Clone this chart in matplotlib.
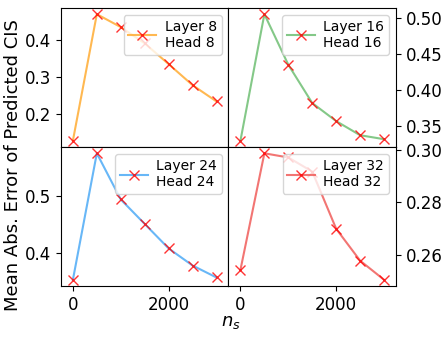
import matplotlib.pyplot as plt

ns = [0, 500, 1000, 1500, 2000, 2500, 3000]

err_l8 = [0.129, 0.471, 0.436, 0.392, 0.336, 0.279, 0.235]
err_l16 = [0.330, 0.505, 0.435, 0.382, 0.357, 0.3375, 0.332]
err_l24 = [0.353, 0.575, 0.494, 0.451, 0.408, 0.378, 0.357]
err_l32 = [0.2542, 0.2988, 0.2972, 0.2918, 0.2699, 0.2577, 0.2504]

series = [err_l8, err_l16, err_l24, err_l32]
labels = ['Layer 8\nHead 8', 'Layer 16\nHead 16', 'Layer 24\nHead 24', 'Layer 32\nHead 32']
colores = ['#ffa726', '#66bb6a', '#42a5f5', '#ef5350']

plt.rcParams['font.size'] = 12

fig, axes = plt.subplots(2, 2, figsize=(4.48, 3.41), dpi=100, sharex=True)
fig.subplots_adjust(left=0.136, right=0.884, top=0.977, bottom=0.161,
                    wspace=0, hspace=0)

for i, ax in enumerate(axes.flat):
    ax.plot(ns, series[i], color=colores[i], alpha=0.8, lw=1.5,
            marker='x', mec='red', mfc='red', ms=7, label=labels[i])
    ax.legend(loc='upper right', fontsize=10, handlelength=2,
              handletextpad=0.6, labelspacing=0.05, borderpad=0.35)
    ax.set_xlim(-250, 3250)
    ax.set_xticks([0, 2000])
    if i % 2 == 1:
        ax.yaxis.tick_right()

axes[0, 0].set_yticks([0.2, 0.3, 0.4])
axes[0, 1].set_yticks([0.35, 0.40, 0.45, 0.50])
axes[0, 1].set_yticklabels(['0.35', '0.40', '0.45', '0.50'])
axes[1, 0].set_yticks([0.4, 0.5])
axes[1, 1].set_yticks([0.26, 0.28, 0.30])

fig.text(0.03, 0.515, 'Mean Abs. Error of Predicted CIS', rotation=90,
         va='center', ha='center', fontsize=13)
fig.text(0.515, 0.055, '$n_s$', ha='center', va='center', fontsize=13)

plt.savefig('out.png', dpi=100)
